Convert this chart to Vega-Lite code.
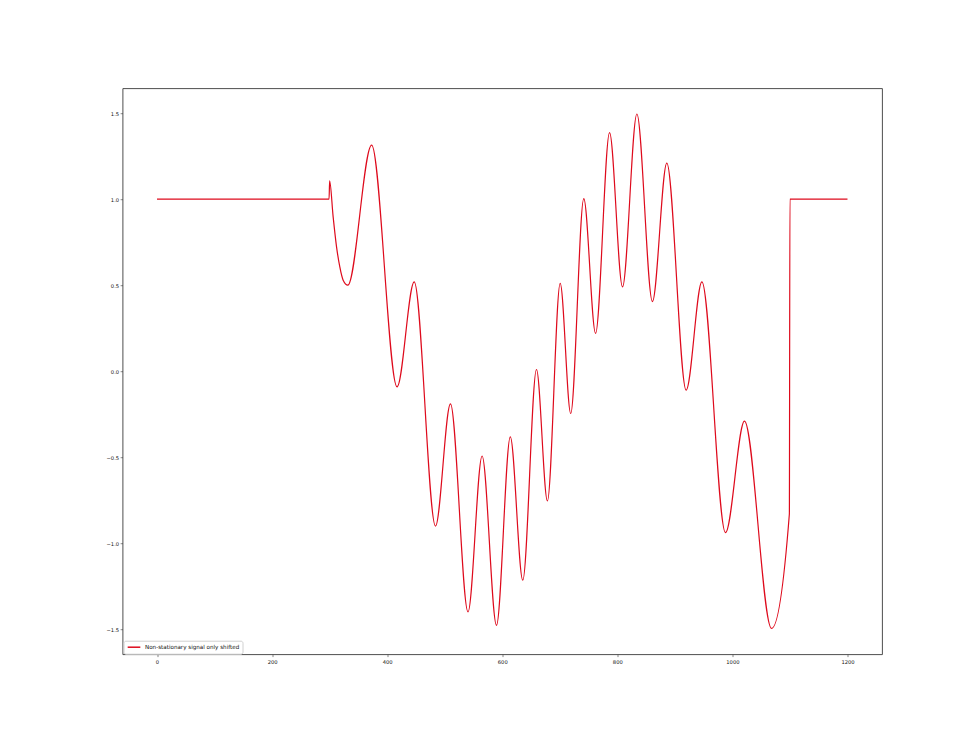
{
  "$schema": "https://vega.github.io/schema/vega-lite/v6.json",
  "width": 759.5,
  "height": 566,
  "autosize": {"type": "none"},
  "padding": {"left": 122.5, "top": 88.2, "right": 98, "bottom": 80.8},
  "background": "white",
  "config": {
    "view": {"stroke": "#3a3a3a", "strokeWidth": 0.9},
    "axis": {
      "grid": false,
      "domain": false,
      "tickSize": 2.4,
      "tickColor": "#3a3a3a",
      "tickWidth": 0.6,
      "labelFont": "DejaVu Sans",
      "labelFontSize": 5.2,
      "labelColor": "#111",
      "title": null
    },
    "legend": {
      "labelFont": "DejaVu Sans",
      "labelFontSize": 5.6,
      "labelColor": "#111"
    }
  },
  "data": {
    "values": [
      {"x": 0, "y": 1.0},
      {"x": 299, "y": 1.0},
      {"x": 300, "y": 1.106},
      {"x": 306.1, "y": 0.897},
      {"x": 312, "y": 0.723},
      {"x": 317.7, "y": 0.606},
      {"x": 323.5, "y": 0.529},
      {"x": 331.6, "y": 0.5},
      {"x": 373, "y": 1.314},
      {"x": 417.2, "y": -0.091},
      {"x": 447, "y": 0.519},
      {"x": 484, "y": -0.9},
      {"x": 510, "y": -0.19},
      {"x": 540.5, "y": -1.399},
      {"x": 565, "y": -0.493},
      {"x": 590, "y": -1.477},
      {"x": 614, "y": -0.382},
      {"x": 635.7, "y": -1.215},
      {"x": 659.5, "y": 0.01},
      {"x": 678.5, "y": -0.754},
      {"x": 700.7, "y": 0.51},
      {"x": 719, "y": -0.246},
      {"x": 741.7, "y": 1.003},
      {"x": 762.2, "y": 0.22},
      {"x": 786.5, "y": 1.387},
      {"x": 809, "y": 0.49},
      {"x": 834, "y": 1.495},
      {"x": 861, "y": 0.405},
      {"x": 886, "y": 1.21},
      {"x": 919.6, "y": -0.11},
      {"x": 947, "y": 0.519},
      {"x": 988, "y": -0.938},
      {"x": 1021, "y": -0.29},
      {"x": 1068, "y": -1.495},
      {"x": 1099, "y": -0.83},
      {"x": 1100, "y": 1.0},
      {"x": 1200, "y": 1.0}
    ]
  },
  "transform": [{"calculate": "'Non-stationary signal only shifted'", "as": "series"}],
  "mark": {"type": "line", "interpolate": "monotone", "strokeWidth": 1.2, "clip": true},
  "encoding": {
    "x": {
      "field": "x",
      "type": "quantitative",
      "scale": {"domain": [-60, 1260], "nice": false, "zero": false},
      "axis": {"values": [0, 200, 400, 600, 800, 1000, 1200], "labelPadding": 2.5, "format": "d"}
    },
    "y": {
      "field": "y",
      "type": "quantitative",
      "scale": {"domain": [-1.645, 1.645], "nice": false, "zero": false},
      "axis": {"values": [-1.5, -1.0, -0.5, 0, 0.5, 1.0, 1.5], "format": ".1f", "labelPadding": 1.5}
    },
    "color": {
      "field": "series",
      "type": "nominal",
      "scale": {"range": ["#de0a1c"]},
      "legend": {
        "title": null,
        "orient": "none",
        "legendX": 1,
        "legendY": 552.5,
        "symbolType": "M-2,0H2",
        "symbolSize": 40,
        "symbolOffset": 4,
        "symbolStrokeWidth": 1.5,
        "symbolStrokeColor": "#e8505c",
        "labelOffset": 7,
        "padding": 2.5,
        "strokeColor": "#d0d0d0",
        "fillColor": "white",
        "cornerRadius": 2
      }
    }
  }
}
